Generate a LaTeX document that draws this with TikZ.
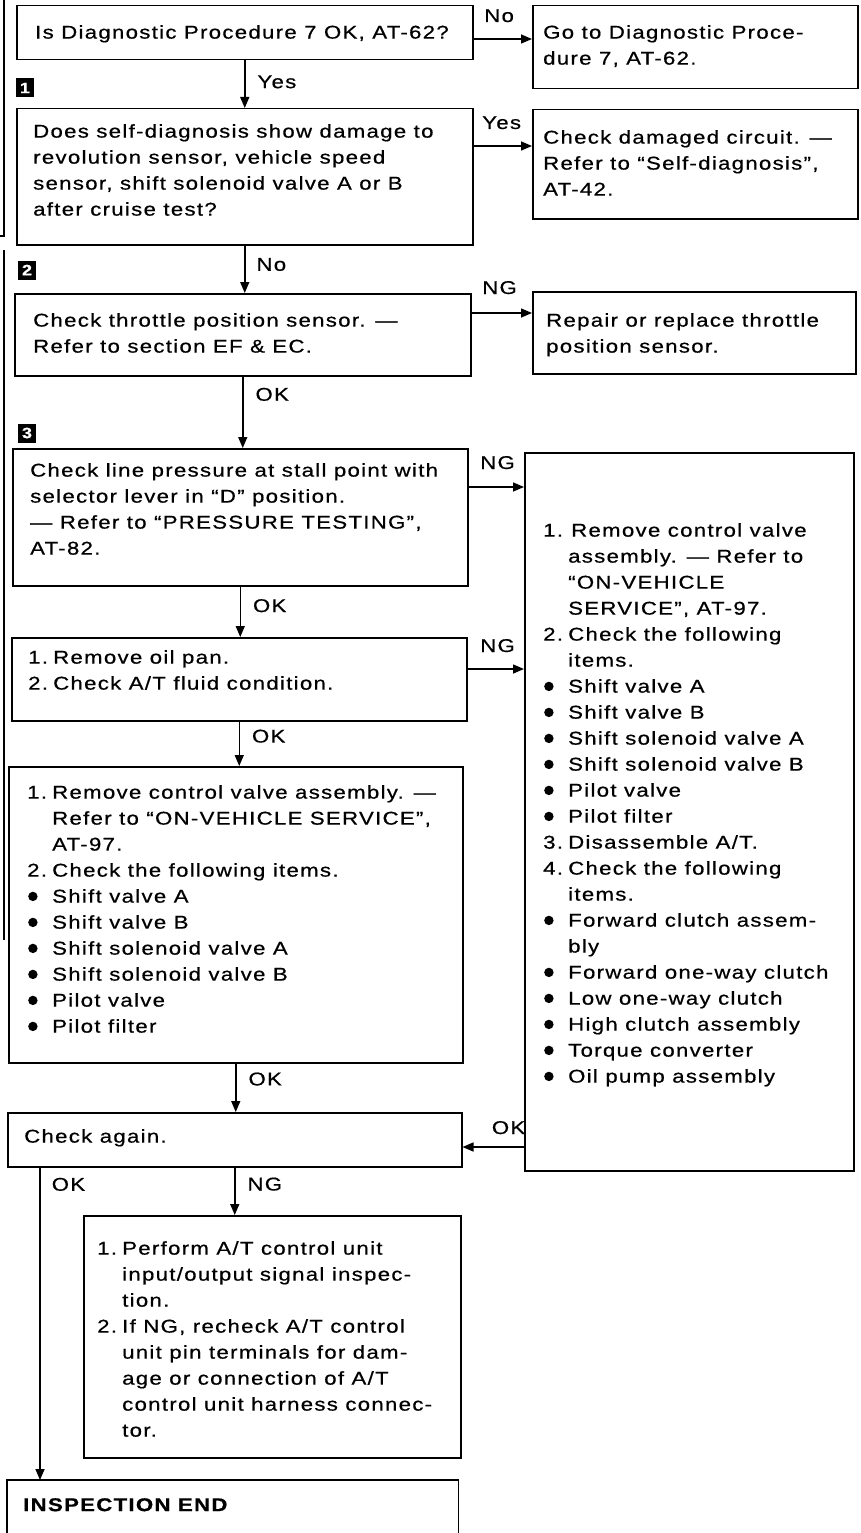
\documentclass[tikz,border=0pt]{standalone}
\usepackage{fontspec}
\setmainfont{Liberation Sans}[LetterSpace=7, FakeStretch=1.2, FakeBold=0.6]
\usetikzlibrary{arrows.meta}
\newlength\hangw
\setlength\hangw{25pt}
\newcommand\myitm[1]{\makebox[\hangw][l]{#1}}
\newcommand\myind{\hbox to \hangw{}}
\newcommand\mybul{\makebox[\hangw][l]{\hspace{1pt}\raisebox{1.5pt}{\tikz\fill (0,0) circle (4.7pt);}}}
\begin{document}
\begin{tikzpicture}[x=1pt,y=-1pt,
  box/.style={draw, line width=1.5pt, inner sep=0pt, anchor=north west},
  openbox/.style={inner sep=0pt, anchor=north west},
  txt/.style={anchor=north west, inner sep=0pt, align=left, font=\fontsize{18.5}{26}\selectfont},
  lbl/.style={inner sep=0pt, font=\fontsize{18.5}{26}\selectfont},
  arr/.style={line width=1.5pt, -{Triangle[length=11pt,width=9pt]}},
  sqmark/.style={fill=black, text=white, inner sep=0pt, minimum width=18pt, minimum height=19pt, font=\bfseries\fontsize{15}{15}\selectfont},
  scanline/.style={line width=1.3pt}]
\useasboundingbox[fill=white] (0,0) rectangle (861,1533);

% scan border lines at left edge
\draw[scanline] (4,0) -- (4,236) -- (0,236);
\draw[scanline] (4,250) -- (4,940);

% boxes
\node[box, minimum width=456pt, minimum height=54pt]  (A) at (16,5) {};
\node[box, minimum width=325pt, minimum height=83pt]  (B) at (532,5) {};
\node[box, minimum width=456pt, minimum height=136pt] (C) at (16,108) {};
\node[box, minimum width=325pt, minimum height=109pt] (D) at (532,109) {};
\node[box, minimum width=456pt, minimum height=82pt]  (E) at (14,293) {};
\node[box, minimum width=323pt, minimum height=82pt]  (F) at (532,291) {};
\node[box, minimum width=455pt, minimum height=137pt] (G) at (12,448) {};
\node[box, minimum width=455pt, minimum height=83pt]  (H) at (11,637) {};
\node[box, minimum width=329pt, minimum height=718pt] (I) at (524,452) {};
\node[box, minimum width=454pt, minimum height=296pt] (J) at (8,766) {};
\node[box, minimum width=454pt, minimum height=54pt]  (K) at (7,1112) {};
\node[box, minimum width=377pt, minimum height=242pt] (L) at (83,1215) {};
\node[openbox, minimum width=451pt, minimum height=120pt] (M) at (7,1480) {};
\draw[line width=1.5pt] (M.south west) |- (M.north east) -- (M.south east);

% texts
\node[txt] (At) at (35,25) {Is Diagnostic Procedure 7 OK, AT-62?};
\node[txt] (Bt) at (543,25) {Go to Diagnostic Proce-\\dure 7, AT-62.};
\node[txt] (Ct) at (33,124) {Does self-diagnosis show damage to\\revolution sensor, vehicle speed\\sensor, shift solenoid valve A or B\\after cruise test?};
\node[txt] (Dt) at (543,130) {Check damaged circuit. ---\\Refer to ``Self-diagnosis'',\\AT-42.};
\node[txt] (Et) at (33,313) {Check throttle position sensor. ---\\Refer to section EF \& EC.};
\node[txt] (Ft) at (546,313) {Repair or replace throttle\\position sensor.};
\node[txt] (Gt) at (30,463) {Check line pressure at stall point with\\selector lever in ``D'' position.\\--- Refer to ``PRESSURE TESTING'',\\AT-82.};
\node[txt] (Ht) at (28,650) {\myitm{1.}Remove oil pan.\\\myitm{2.}Check A/T fluid condition.};
\node[txt] (It) at (543,523) {\setlength\hangw{28pt}\myitm{1.}Remove control valve\\\myind assembly. --- Refer to\\\myind ``ON-VEHICLE\\\myind SERVICE'', AT-97.\\\myitm{2.}Check the following\\\myind items.\\\mybul Shift valve A\\\mybul Shift valve B\\\mybul Shift solenoid valve A\\\mybul Shift solenoid valve B\\\mybul Pilot valve\\\mybul Pilot filter\\\myitm{3.}Disassemble A/T.\\\myitm{4.}Check the following\\\myind items.\\\mybul Forward clutch assem-\\\myind bly\\\mybul Forward one-way clutch\\\mybul Low one-way clutch\\\mybul High clutch assembly\\\mybul Torque converter\\\mybul Oil pump assembly};
\node[txt] (Jt) at (27,785) {\myitm{1.}Remove control valve assembly. ---\\\myind Refer to ``ON-VEHICLE SERVICE'',\\\myind AT-97.\\\myitm{2.}Check the following items.\\\mybul Shift valve A\\\mybul Shift valve B\\\mybul Shift solenoid valve A\\\mybul Shift solenoid valve B\\\mybul Pilot valve\\\mybul Pilot filter};
\node[txt] (Kt) at (24,1129) {Check again.};
\node[txt] (Lt) at (97,1241) {\myitm{1.}Perform A/T control unit\\\myind input/output signal inspec-\\\myind tion.\\\myitm{2.}If NG, recheck A/T control\\\myind unit pin terminals for dam-\\\myind age or connection of A/T\\\myind control unit harness connec-\\\myind tor.};
\node[txt] (Mt) at (23,1498) {\textbf{INSPECTION END}};

% step markers
\node[sqmark] (m1) at (25,88) {1};
\node[sqmark] (m2) at (27,270) {2};
\node[sqmark] (m3) at (27,433) {3};

% connectors
\coordinate (ab) at ([yshift=-34pt]A.north east);
\draw[arr] (ab) -- (ab -| B.west) node[lbl, pos=0, anchor=base west, xshift=10pt, yshift=17pt] {No};
\draw[arr] (A.south) -- (A.south |- C.north) node[lbl, pos=0.45, anchor=west, xshift=12pt] {Yes};
\coordinate (cd) at ([yshift=-38pt]C.north east);
\draw[arr] (cd) -- (cd -| D.west) node[lbl, pos=0, anchor=base west, xshift=8pt, yshift=17pt] {Yes};
\draw[arr] (C.south) -- (C.south |- E.north) node[lbl, pos=0.4, anchor=west, xshift=11pt] {No};
\coordinate (ef) at ([yshift=-20pt]E.north east);
\draw[arr] (ef) -- (ef -| F.west) node[lbl, pos=0, anchor=base west, xshift=10pt, yshift=19pt] {NG};
\draw[arr] (E.south) -- (E.south |- G.north) node[lbl, pos=0.25, anchor=west, xshift=12pt] {OK};
\coordinate (gi) at ([yshift=-39pt]G.north east);
\draw[arr] (gi) -- (gi -| I.west) node[lbl, pos=0, anchor=base west, xshift=11pt, yshift=18pt] {NG};
\draw[arr] (G.south) -- (G.south |- H.north) node[lbl, pos=0.38, anchor=west, xshift=12pt] {OK};
\coordinate (hi) at ([yshift=-32pt]H.north east);
\draw[arr] (hi) -- (hi -| I.west) node[lbl, pos=0, anchor=base west, xshift=12pt, yshift=17pt] {NG};
\draw[arr] (H.south) -- (H.south |- J.north) node[lbl, pos=0.33, anchor=west, xshift=12pt] {OK};
\draw[arr] (J.south) -- (J.south |- K.north) node[lbl, pos=0.32, anchor=west, xshift=12pt] {OK};
\coordinate (ik) at ([yshift=-35pt]K.north east);
\draw[arr] (ik -| I.west) -- (ik) node[lbl, pos=0, anchor=base east, xshift=2pt, yshift=13pt] {OK};
\draw[arr] (K.south) -- (K.south |- L.north) node[lbl, pos=0.35, anchor=west, xshift=12pt] {NG};
\coordinate (km) at ([xshift=33pt]K.south west);
\draw[arr] (km) -- (km |- M.north) node[lbl, pos=0.054, anchor=west, xshift=11pt] {OK};
\end{tikzpicture}
\end{document}
